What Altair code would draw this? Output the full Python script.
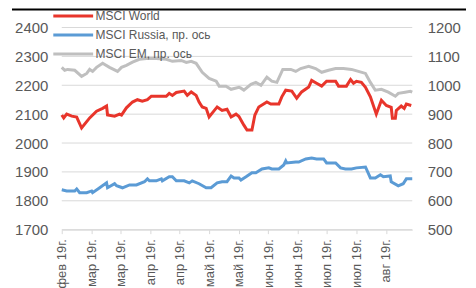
import altair as alt
import pandas as pd

# days since 20 Feb 2019
world_days = [0, 1.0, 2.5, 5.1, 7.6, 10.1, 14.2, 17.7, 20.8, 22.8, 23.3, 26.9, 29.4, 30.4, 32.9, 36.0, 38.5, 41.0, 43.6, 45.6,
              53.2, 54.7, 56.3, 58.3, 62.3, 63.9, 65.9, 68.4, 69.9, 71.5, 73.5, 75.0, 79.1, 81.6, 84.1, 86.2, 88.7, 90.2, 92.7,
              94.3, 96.8, 98.3, 100.3, 104.4, 106.4, 110.5, 112.0, 114.0, 117.1, 119.6, 122.1, 125.7, 127.2, 129.7, 132.3,
              134.8, 139.4, 140.9, 144.9, 147.0, 148.5, 150.0, 152.5, 154.6, 157.1, 160.1, 162.7, 165.2, 167.7, 168.3, 169.8,
              170.3, 172.8, 174.3, 175.4, 177.9]
world_vals = [2097, 2087, 2100, 2093, 2090, 2052, 2087, 2110, 2120, 2128, 2097, 2093, 2100, 2097, 2122, 2142, 2150, 2145, 2150, 2162,
              2162, 2172, 2165, 2175, 2180, 2165, 2177, 2165, 2142, 2125, 2120, 2090, 2125, 2113, 2117, 2090, 2100, 2092, 2062,
              2045, 2045, 2097, 2125, 2142, 2135, 2135, 2160, 2183, 2180, 2155, 2177, 2194, 2217, 2207, 2197,
              2214, 2214, 2197, 2197, 2220, 2207, 2214, 2210, 2193, 2160, 2100, 2148, 2130, 2124, 2086, 2086,
              2113, 2128, 2120, 2135, 2130]

russia_days = [0, 2.5, 6.6, 7.6, 9.1, 12.7, 15.2, 15.7, 19.3, 22.8, 23.3, 26.9, 27.9, 30.9, 34.5, 38.0, 42.1, 43.6, 44.6, 48.1,
               50.7, 51.2, 54.7, 56.3, 58.3, 62.3, 64.9, 66.4, 69.9, 73.5, 76.0, 79.1, 81.6, 84.1, 86.2, 87.7, 90.2, 91.2, 93.8,
               96.8, 98.8, 101.9, 105.4, 106.9, 110.5, 113.0, 114.0, 114.5, 119.1, 120.6, 124.2, 127.2, 129.7, 133.3, 134.8,
               139.4, 141.9, 144.4, 147.5, 150.0, 154.6, 157.1, 159.6, 162.2, 163.7, 167.2, 167.7, 171.3, 173.8, 175.4, 178.4]
russia_vals = [638, 634, 634, 641, 628, 628, 634, 628, 645, 662, 645, 659, 652, 645, 655, 655, 666, 676, 669, 669,
               676, 669, 683, 683, 669, 669, 662, 669, 659, 645, 645, 662, 666, 666, 686, 679, 679, 672, 683,
               697, 697, 710, 714, 710, 710, 724, 738, 731, 734, 734, 745, 748, 745, 745, 731,
               731, 714, 710, 710, 714, 717, 679, 679, 690, 683, 686, 666, 652, 659, 676, 676]

em_days = [0, 1.5, 3.0, 6.6, 10.1, 12.7, 14.2, 15.7, 17.7, 20.8, 24.3, 28.4, 30.4, 32.9, 36.0, 39.5, 43.1, 48.1, 53.2, 56.3,
           60.8, 63.4, 65.9, 68.4, 71.5, 75.0, 78.6, 80.1, 83.6, 86.2, 90.2, 91.2, 92.7, 96.3, 98.8, 101.4, 104.4, 106.9,
           109.5, 112.5, 116.6, 119.1, 121.6, 125.7, 129.2, 132.3, 135.8, 139.4, 143.4, 147.5, 151.0, 154.6, 157.1, 159.6,
           162.7, 166.2, 169.8, 171.3, 174.8, 177.4, 178.4]
em_vals = [1062, 1052, 1055, 1052, 1031, 1041, 1055, 1048, 1062, 1076, 1062, 1048, 1062, 1069, 1080, 1090, 1093, 1093, 1090, 1083,
           1086, 1079, 1083, 1076, 1045, 1024, 1014, 997, 997, 986, 993, 990, 983, 1003, 1010, 1000, 1028, 1014,
           1010, 1055, 1055, 1048, 1058, 1066, 1058, 1045, 1052, 1058, 1058, 1055, 1048, 1041, 1010, 983,
           986, 976, 962, 972, 976, 979, 976]

series_names = ["MSCI World", "MSCI Russia, пр. ось", "MSCI EM, пр. ось"]
series_colors = ["#E8352B", "#5B9BD5", "#BFBFBF"]

tick_days = [0, 15, 30, 45, 60, 75, 90, 105, 120, 135, 150, 165]
tick_labels = ["фев 19г.", "мар 19г.", "мар 19г.", "апр 19г.", "апр 19г.", "май 19г.",
               "май 19г.", "июн 19г.", "июн 19г.", "июл 19г.", "июл 19г.", "авг 19г."]

left_ticks = [1700, 1800, 1900, 2000, 2100, 2200, 2300, 2400]
right_ticks = [500, 600, 700, 800, 900, 1000, 1100, 1200]

world_df = pd.DataFrame({"day": world_days, "value": world_vals, "series": series_names[0]})
right_df = pd.concat([
    pd.DataFrame({"day": russia_days, "value": russia_vals, "series": series_names[1]}),
    pd.DataFrame({"day": em_days, "value": em_vals, "series": series_names[2]}),
])
grid_df = pd.DataFrame({"value": left_ticks})

label_expr = "[" + ",".join("'" + t + "'" for t in tick_labels) + "][round(datum.value / 15)]"

x_scale = alt.Scale(domain=[0, 178.4], nice=False, zero=False)
x_enc = alt.X("day:Q", scale=x_scale,
              axis=alt.Axis(values=tick_days, labelExpr=label_expr, labelAngle=270, labelFontSize=13,
                            labelColor="#595959", domainColor="#D9D9D9", tickColor="#D9D9D9", tickSize=4,
                            labelPadding=5, grid=False, title=None))

left_scale = alt.Scale(domain=[1700, 2400], nice=False, zero=False)

color_enc = alt.Color("series:N", scale=alt.Scale(domain=series_names, range=series_colors),
                      legend=alt.Legend(orient="none", legendX=5, legendY=-18, title=None,
                                        symbolType="M-4,0H4", symbolSize=100, symbolStrokeWidth=3,
                                        labelFontSize=12, labelColor="#595959", labelOffset=16,
                                        rowPadding=6))

grid = alt.Chart(grid_df).mark_rule(color="#D9D9D9", strokeWidth=1).encode(
    y=alt.Y("value:Q", scale=left_scale, axis=None),
)

left = alt.Chart(world_df).mark_line(strokeWidth=3).encode(
    x=x_enc,
    y=alt.Y("value:Q", scale=left_scale,
            axis=alt.Axis(values=left_ticks, format="d", grid=False, domain=False, ticks=False,
                          labelFontSize=15, labelColor="#595959", labelPadding=14, title=None)),
    color=color_enc,
)

right = alt.Chart(right_df).mark_line(strokeWidth=3).encode(
    x=x_enc,
    y=alt.Y("value:Q", scale=alt.Scale(domain=[500, 1200], nice=False, zero=False),
            axis=alt.Axis(values=right_ticks, format="d", orient="right", grid=False, domain=False, ticks=False,
                          labelFontSize=15, labelColor="#595959", labelPadding=15, title=None)),
    color=color_enc,
    detail="series:N",
)

top_line = alt.Chart(pd.DataFrame({"a": [0]})).mark_rule(color="black", strokeWidth=2).encode(
    x=alt.value(-50), x2=alt.value(406), y=alt.value(-18), y2=alt.value(-18)
)

chart = alt.layer(grid, right, left, top_line).resolve_scale(y="independent").properties(
    width=352, height=203,
    autosize=alt.AutoSizeParams(type="none"),
    padding={"left": 54, "top": 19, "right": 56, "bottom": 60},
).configure(font="Liberation Sans").configure_view(stroke=None)

chart.save("out.html", embed_options={"renderer": "svg", "actions": False})
